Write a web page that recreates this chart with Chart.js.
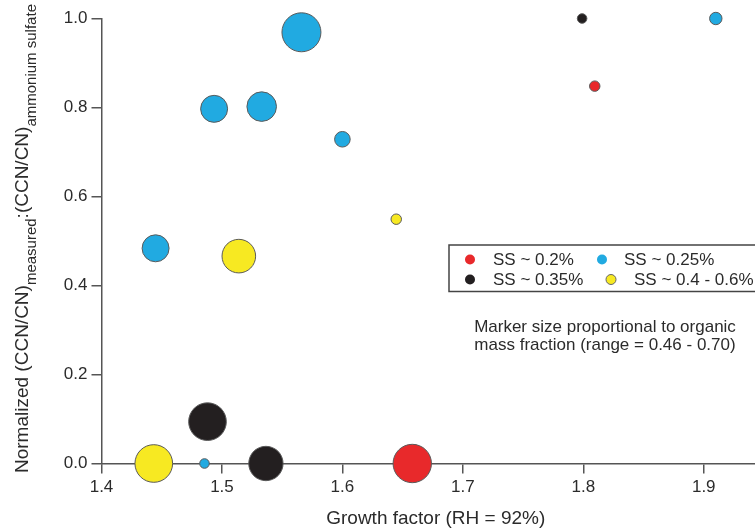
<!DOCTYPE html>
<html>
<head>
<meta charset="utf-8">
<script src="https://cdn.jsdelivr.net/npm/chart.js@4.4.1/dist/chart.umd.min.js"></script>
<style>
    html, body { margin: 0; padding: 0; background: #fff; overflow: hidden; }
    /* figure is wider than the window: its right edge is cropped like the original */
    #wrap { width: 772px; height: 531px; }
</style>
</head>
<body>
<div id="wrap"><canvas id="gfChart" width="772" height="531"></canvas></div>
<script>
// Tick labels
const xTicks = [1.4, 1.5, 1.6, 1.7, 1.8, 1.9];
const yTicks = [0.0, 0.2, 0.4, 0.6, 0.8, 1.0];

// SS ~ 0.2% (red)
const ss02Gf  = [1.658, 1.8095];
const ss02Ccn = [0.0, 0.848];
const ss02Omf = [0.695, 0.467];

// SS ~ 0.25% (blue)
const ss025Gf  = [1.566, 1.4935, 1.533, 1.600, 1.4449, 1.4855, 1.910];
const ss025Ccn = [0.969, 0.797, 0.802, 0.7286, 0.4836, 0.0, 1.0];
const ss025Omf = [0.700, 0.602, 0.623, 0.509, 0.602, 0.460, 0.483];

// SS ~ 0.35% (black)
const ss035Gf  = [1.488, 1.5365, 1.799];
const ss035Ccn = [0.094, 0.0, 1.0];
const ss035Omf = [0.689, 0.662, 0.460];

// SS ~ 0.4 - 0.6% (yellow)
const ss04Gf  = [1.4434, 1.514, 1.6447];
const ss04Ccn = [0.0, 0.466, 0.549];
const ss04Omf = [0.689, 0.656, 0.467];

const FONT = "'Liberation Sans', Arial, Helvetica, sans-serif";
const TEXT = '#2b2b2b';
const AXIS = '#555';

// marker radius from organic mass fraction (0.46 - 0.70)
function sizeFor(f) {
    return 4.8 + (f - 0.46) / 0.24 * 14.7;
}

function points(xs, ys, fs) {
    return xs.map((x, i) => ({ x: x, y: ys[i], f: fs[i] }));
}

function makeSet(label, color, xs, ys, fs) {
    return {
        label: label,
        data: points(xs, ys, fs),
        backgroundColor: color,
        borderColor: '#5a5a5a',
        borderWidth: 1,
        pointRadius: ctx => sizeFor(ctx.raw.f),
        pointHoverRadius: ctx => sizeFor(ctx.raw.f),
        clip: false
    };
}

// y axis title with subscripts
const yTitlePlugin = {
    id: 'yTitle',
    afterDraw(chart) {
        const ctx = chart.ctx;
        const parts = [
            { t: 'Normalized (CCN/CN)', size: 19, dy: 0 },
            { t: 'measured', size: 15, dy: 8 },
            { t: ':(CCN/CN)', size: 19, dy: 0 },
            { t: 'ammonium sulfate', size: 15, dy: 8 }
        ];
        ctx.save();
        ctx.translate(28, 473);
        ctx.rotate(-Math.PI / 2);
        ctx.fillStyle = TEXT;
        ctx.textBaseline = 'alphabetic';
        ctx.textAlign = 'left';
        let cx = 0;
        parts.forEach(p => {
            ctx.font = p.size + 'px ' + FONT;
            ctx.fillText(p.t, cx, p.dy);
            cx += ctx.measureText(p.t).width;
        });
        ctx.restore();
    }
};

// boxed legend + note inside the plot
const legendPlugin = {
    id: 'boxLegend',
    afterDraw(chart) {
        const ctx = chart.ctx;
        const sets = chart.data.datasets;
        ctx.save();
        ctx.fillStyle = '#fff';
        ctx.fillRect(449, 245, 340, 46.5);
        ctx.strokeStyle = '#444';
        ctx.lineWidth = 1.5;
        ctx.strokeRect(449, 245, 340, 46.5);

        const spots = [
            { dot: 470, txt: 493, y: 259.5 },
            { dot: 602, txt: 624, y: 259.5 },
            { dot: 470, txt: 493, y: 279.5 },
            { dot: 611, txt: 634, y: 279.5 }
        ];
        ctx.font = '17px ' + FONT;
        ctx.textBaseline = 'middle';
        ctx.textAlign = 'left';
        sets.forEach((ds, i) => {
            const s = spots[i];
            ctx.beginPath();
            ctx.arc(s.dot, s.y, 5, 0, Math.PI * 2);
            ctx.fillStyle = ds.backgroundColor;
            ctx.fill();
            if (i === 3) {
                ctx.lineWidth = 1;
                ctx.strokeStyle = '#666';
                ctx.stroke();
            }
            ctx.fillStyle = TEXT;
            ctx.fillText(ds.label, s.txt, s.y + 1);
        });

        ctx.textAlign = 'center';
        ctx.textBaseline = 'alphabetic';
        ctx.fillText('Marker size proportional to organic', 605, 332);
        ctx.fillText('mass fraction (range = 0.46 - 0.70)', 605, 350);
        ctx.restore();
    }
};

Chart.defaults.font.family = FONT;

const myChart = new Chart(document.getElementById('gfChart').getContext('2d'), {
    type: 'scatter',
    data: {
        datasets: [
            makeSet('SS ~ 0.2%', '#e8292b', ss02Gf, ss02Ccn, ss02Omf),
            makeSet('SS ~ 0.25%', '#21aae1', ss025Gf, ss025Ccn, ss025Omf),
            makeSet('SS ~ 0.35%', '#231f20', ss035Gf, ss035Ccn, ss035Omf),
            makeSet('SS ~ 0.4 - 0.6%', '#f7e922', ss04Gf, ss04Ccn, ss04Omf)
        ]
    },
    options: {
        responsive: false,
        animation: false,
        events: [],
        layout: { autoPadding: false, padding: { top: 18.5, right: 2, left: 0, bottom: 1 } },
        plugins: {
            legend: { display: false },
            tooltip: { enabled: false }
        },
        scales: {
            x: {
                type: 'linear',
                min: 1.4,
                max: 1.955,
                afterBuildTicks: s => { s.ticks = xTicks.map(v => ({ value: v })); },
                afterFit: s => { s.height = 66.5; },
                grid: { drawOnChartArea: false, color: AXIS, tickLength: 10, lineWidth: 1.5 },
                border: { color: AXIS, width: 1.5 },
                ticks: {
                    color: TEXT,
                    font: { size: 17 },
                    padding: 4,
                    maxRotation: 0,
                    autoSkip: false,
                    callback: v => v.toFixed(1)
                },
                title: {
                    display: true,
                    text: 'Growth factor (RH = 92%)',
                    color: TEXT,
                    font: { size: 19 },
                    padding: { top: 2, bottom: 0 }
                }
            },
            y: {
                min: 0,
                max: 1,
                afterBuildTicks: s => { s.ticks = yTicks.map(v => ({ value: v })); },
                afterFit: s => { s.width = 101.5; },
                grid: { drawOnChartArea: false, color: AXIS, tickLength: 10, lineWidth: 1.5 },
                border: { color: AXIS, width: 1.5 },
                ticks: {
                    color: TEXT,
                    font: { size: 17 },
                    padding: 4,
                    callback: v => v.toFixed(1)
                }
            }
        }
    },
    plugins: [yTitlePlugin, legendPlugin]
});
</script>
</body>
</html>
